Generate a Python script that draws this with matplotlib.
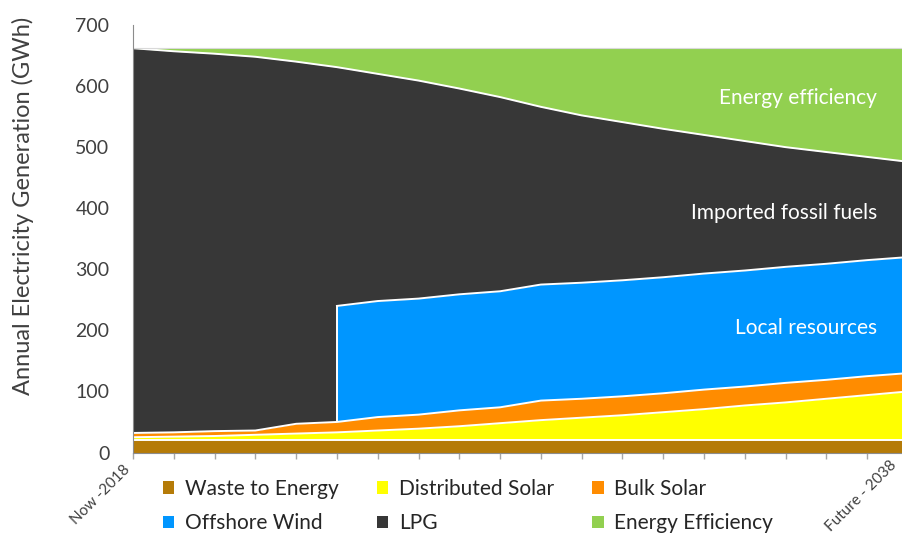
import matplotlib.pyplot as plt
from matplotlib.patches import Patch
import numpy as np

plt.rcParams["font.family"] = ["Lato", "DejaVu Sans"]

# Annual generation by source, 2018 -> 2038 (GWh)
years = list(range(2018, 2038))
waste = [20] * 20
dist_solar = [5, 6, 7, 9, 11, 13, 16, 19, 23, 28, 33, 37, 41, 46, 51, 57, 62, 68, 74, 80]
bulk_solar = [7, 7, 8, 7, 16, 17, 22, 23, 26, 26, 32, 31, 31, 31, 32, 31, 32, 31, 31, 30]
offshore_wind = [0, 0, 0, 0, 0, 190, 190, 190, 190, 190, 190, 190, 190, 190, 190, 190, 190, 190, 190, 190]
lpg = [630, 624, 618, 612, 593, 391, 372, 357, 337, 318, 291, 274, 259, 243, 227, 212, 196, 183, 169, 156]
efficiency = [0, 5, 9, 14, 22, 31, 42, 53, 66, 80, 96, 110, 121, 132, 142, 152, 162, 170, 178, 186]

names = ["Waste to Energy", "Distributed Solar", "Bulk Solar",
         "Offshore Wind", "LPG", "Energy Efficiency"]
colors = ["#B57B08", "#FFFF00", "#FF8C00", "#0096FF", "#373737", "#92D050"]
x_labels = ["Now -2018", "Future - 2038"]

series = [waste, dist_solar, bulk_solar, offshore_wind, lpg, efficiency]
x = np.arange(len(years))
tops = np.cumsum(np.array(series, dtype=float), axis=0)

fig = plt.figure(figsize=(9.02, 5.48), dpi=100)
ax = fig.add_axes([133 / 902, 1 - 452.5 / 548, 775 / 902, 427.5 / 548])

# paint each layer from zero, top layer first, so lower layers sit on top
for i in reversed(range(len(series))):
    vals = np.array(series[i])
    mask = vals > 0 if i == 3 else np.ones_like(vals, dtype=bool)
    ax.fill_between(x, 0, tops[i], where=mask, color=colors[i], lw=0, zorder=2 + (6 - i))

# white separators along each layer's top
for i in range(len(series) - 1):
    vals = np.array(series[i])
    if i == 3:
        idx = np.where(vals > 0)[0]
        ax.plot(x[idx], tops[i][idx], color="white", lw=1.4, zorder=20)
        ax.vlines(x[idx[0]], tops[i - 1][idx[0]], tops[i][idx[0]], color="white", lw=1.4, zorder=20)
    else:
        ax.plot(x, tops[i], color="white", lw=1.4, zorder=20)
ax.plot(x, tops[-1], color="#D9D9D9", lw=0.8, zorder=20)

ax.set_xlim(x[0], x[-1])
ax.set_ylim(0, 700)
ax.set_yticks(range(0, 701, 100))
ax.set_xticks(x)
ax.set_xticklabels([x_labels[0]] + [""] * (len(x) - 1),
                   rotation=45, ha="right", fontsize=11, color="#404040")
# end label sits just inside the right edge of the figure
ax.annotate(x_labels[1], xy=(x[-1], 0), xycoords="data", xytext=(-6, -4),
            textcoords="offset points", rotation=45, ha="right", va="top",
            fontsize=11, color="#404040", annotation_clip=False)

ax.tick_params(axis="y", length=0, labelsize=14, labelcolor="#404040", pad=17)
ax.tick_params(axis="x", length=4, color="#A6A6A6", width=1, pad=3)
for s in ["top", "right"]:
    ax.spines[s].set_visible(False)
for s in ["left", "bottom"]:
    ax.spines[s].set_color("#8C8C8C")
    ax.spines[s].set_zorder(30)

ax.set_ylabel("Annual Electricity Generation (GWh)", fontsize=17, color="#404040")
ax.yaxis.set_label_coords(-0.128, 0.578)

# in-chart annotations
for txt, yv in [("Energy efficiency", 580), ("Imported fossil fuels", 392), ("Local resources", 204)]:
    ax.text(18.24, yv, txt, color="white", fontsize=15, ha="right", va="center", zorder=40)

order = [0, 3, 1, 4, 2, 5]
handles = [Patch(facecolor=colors[k], label=names[k]) for k in order]
fig.legend(handles=handles, loc="upper left", bbox_to_anchor=(144 / 902, 1 - 460 / 548),
           ncol=3, frameon=False, fontsize=15, handlelength=0.55, handleheight=0.55,
           handletextpad=0.5, columnspacing=1.85, labelspacing=0.7, labelcolor="#262626")

fig.savefig("out.png", dpi=100)
